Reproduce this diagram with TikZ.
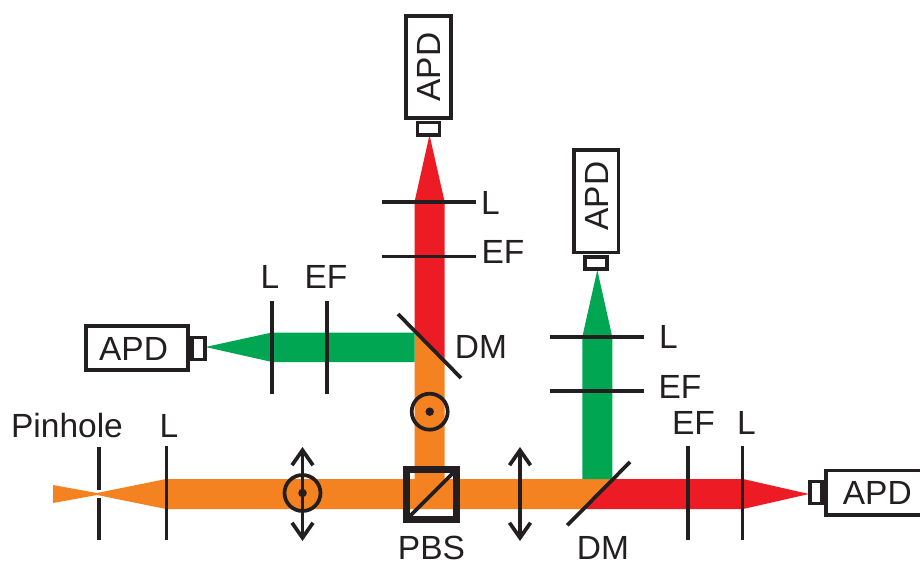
\documentclass[tikz,border=0pt]{standalone}
\usepackage{fontspec}
\setmainfont{Liberation Sans}
\usetikzlibrary{arrows.meta}
\definecolor{beamorange}{HTML}{F58220}
\definecolor{beamred}{HTML}{ED1C24}
\definecolor{beamgreen}{HTML}{00A651}
\definecolor{ink}{HTML}{231F20}
\begin{document}
\begin{tikzpicture}[
x=1pt,
y=-1pt,
line width=3.7pt,
ink,
lbl/.style={
anchor=base,
inner sep=0pt,
font=\fontsize{33.5}{36}\selectfont
},
apd/.style={
draw,
fill=white,
inner sep=0pt,
minimum width=102.5pt,
minimum height=44.5pt,
font=\fontsize{33.5}{36}\selectfont
},
apdtext/.style={
inner sep=0pt,
font=\fontsize{33.5}{36}\selectfont
},
apdcap/.style={
draw,
fill=white,
inner sep=0pt,
minimum width=22pt,
minimum height=12.5pt
},
ring/.style={
draw,
circle,
inner sep=0pt,
minimum size=36pt
},
spot/.style={
fill,
circle,
inner sep=0pt,
minimum size=8.5pt
},
pol/.style={
{Straight Barb[length=15pt,width=21pt]}-{Straight Barb[length=15pt,width=21pt]}
}
]

\clip (0,0) rectangle (920,561);

\node[draw=none,fill=white,minimum size=50pt,inner sep=0pt] (PBSback) at (431.5,494.5) {};

\fill[beamorange] (53,485)--(97,493)--(166,479)--(613.6,479)--(583.6,509)--(166,509)--(97,495)--(53,503)--cycle;
\fill[beamorange] (414.5,332)--(444.7,362)--(444.7,494)--(414.5,494)--cycle;
\fill[beamred] (613.6,479)--(743,479)--(809,494)--(743,509)--(583.6,509)--cycle;
\fill[beamred] (429.5,135)--(444.7,202)--(444.7,362)--(414.5,332)--(414.5,202)--cycle;
\fill[beamgreen] (205.5,347)--(272,332.5)--(414.5,332.5)--(414.5,362)--(272,362)--cycle;
\fill[beamgreen] (597.3,270)--(612.3,337)--(612.3,479)--(582.3,479)--(582.3,337)--cycle;

\node[apd] (APDleft) at (137,348) {};
\node[apdtext] (APDlefttext) at (133.5,348.5) {APD};
\node[apd,rotate=90] (APDtop) at (428.5,67) {APD};
\node[apd,rotate=90] (APDmid) at (596.2,201.3) {};
\node[apdtext,rotate=90] (APDmidtext) at (596.5,196) {APD};
\node[apd] (APDright) at (877.3,492.7) {APD};

\node[apdcap,rotate=90] (capleft) at (198.5,348.5) {};
\node[apdcap] (captop) at (428.5,128.8) {};
\node[apdcap] (capmid) at (596.2,263) {};
\node[apdcap,rotate=90] (capright) at (816,492.5) {};

\draw (99.3,447)--(99.3,489.5);
\draw (99.3,498)--(99.3,540);
\draw (166.5,446)--(166.5,540);
\draw (272,301)--(272,394);
\draw (326.7,301)--(326.7,394);
\draw (382,202)--(476,202);
\draw (382,256.5)--(476,256.5);
\draw (549.7,337)--(643.7,337);
\draw (549.7,390.7)--(643.7,390.7);
\draw (687.7,446)--(687.7,540);
\draw (742.5,446)--(742.5,540);

\draw (398,314)--(461,378);
\draw (567.3,525.3)--(630,462);

\draw[pol] (302.5,447)--(302.5,541);
\draw[pol] (520,447)--(520,541);

\node[ring] (ringH) at (302.5,493) {};
\node[spot] (spotH) at (302.5,493) {};
\node[ring] (ringV) at (429.7,411.7) {};
\node[spot] (spotV) at (429.7,411.7) {};

\draw[line width=7pt] (406.5,469.5) rectangle (456.5,519.5);
\draw (406.5,519.5)--(456.5,469.5);

\node[lbl] (pinholetext) at (67,437) {Pinhole};
\node[lbl] (Lin) at (169,437) {L};
\node[lbl] (Lleft) at (270,288) {L};
\node[lbl] (EFleft) at (326,288) {EF};
\node[lbl] (Ltop) at (490.5,215) {L};
\node[lbl] (EFtop) at (503,263) {EF};
\node[lbl] (DMtop) at (481,358) {DM};
\node[lbl] (Lmid) at (668.5,348) {L};
\node[lbl] (EFmid) at (680,398) {EF};
\node[lbl] (EFright) at (693.5,434) {EF};
\node[lbl] (Lright) at (746.5,434) {L};
\node[lbl] (PBStext) at (431.5,559.8) {PBS};
\node[lbl] (DMbottom) at (603,559.8) {DM};

\end{tikzpicture}
\end{document}
